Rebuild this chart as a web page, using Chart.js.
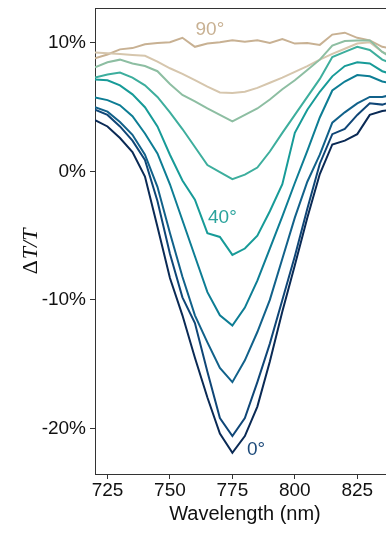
<!DOCTYPE html>
<html>
<head>
<meta charset="utf-8">
<script src="https://cdn.jsdelivr.net/npm/chart.js@4"></script>
<style>
  html, body { margin: 0; padding: 0; background: #ffffff; }
  #wrap { width: 386px; height: 533px; }
</style>
</head>
<body>
<div id="wrap"><canvas id="c" width="386" height="533"></canvas></div>
<script>
// Wavelength grid (nm)
const wavelengths = [720, 725, 730, 735, 740, 745, 750, 755, 760, 765, 770, 775, 780,
                     785, 790, 795, 800, 805, 810, 815, 820, 825, 830, 835, 840];

// Relative transmission change ΔT/T (%) for each polarisation angle
const dT_0  = [4.0, 3.5, 2.6, 1.5, -0.4, -4.3, -8.3, -11.2, -14.5, -17.6, -20.4, -21.9, -20.6,
               -18.3, -14.8, -10.9, -7.3, -3.6, -0.2, 2.1, 2.4, 2.9, 4.4, 4.7, 4.85];
const dT_10 = [4.8, 4.4, 3.5, 2.4, 0.9, -2.3, -6.4, -9.8, -11.8, -15.6, -19.2, -20.6, -19.2,
               -16.4, -13.4, -10.0, -6.6, -2.9, 0.6, 2.9, 3.3, 4.4, 5.3, 5.2, 5.5];
const dT_20 = [5.0, 4.65, 3.85, 2.85, 1.3, -1.2, -4.8, -8.2, -11.2, -13.3, -15.3, -16.4, -14.7,
               -12.5, -10.0, -6.8, -3.6, -0.8, 1.3, 3.8, 4.6, 5.3, 5.8, 5.8, 6.0];
const dT_30 = [5.75, 5.55, 5.15, 4.3, 2.95, 1.4, -1.0, -3.8, -6.6, -9.4, -11.2, -12.0, -10.6,
               -8.5, -6.0, -3.5, -0.9, 1.6, 4.2, 6.3, 7.0, 7.5, 7.4, 7.0, 6.8];
const dT_40 = [7.15, 7.1, 6.7, 6.0, 5.0, 3.5, 1.3, -0.7, -2.2, -4.8, -5.1, -6.5, -6.0,
               -5.0, -3.1, -1.0, 3.0, 4.8, 6.2, 7.4, 8.2, 8.5, 8.4, 7.8, 7.5];
const dT_50 = [7.3, 7.55, 7.7, 7.3, 6.7, 5.8, 4.6, 3.3, 1.9, 0.5, -0.05, -0.6, -0.25,
               0.3, 1.55, 3.0, 4.4, 5.8, 7.2, 8.9, 9.3, 9.7, 9.45, 8.7, 8.3];
const dT_60 = [8.1, 8.5, 8.7, 8.4, 8.2, 7.8, 6.8, 5.95, 5.45, 4.9, 4.4, 3.9, 4.4,
               4.9, 5.6, 6.4, 7.1, 7.9, 8.7, 9.8, 10.15, 10.2, 10.2, 9.3, 8.7];
const dT_75 = [9.25, 9.2, 9.14, 9.07, 9.0, 8.55, 8.03, 7.6, 7.1, 6.6, 6.15, 6.1, 6.2,
               6.5, 6.9, 7.3, 7.75, 8.2, 8.7, 9.15, 9.55, 9.95, 10.05, 9.3, 8.9];
const dT_90 = [8.8, 9.1, 9.5, 9.6, 9.9, 10.0, 10.05, 10.4, 9.7, 9.95, 10.05, 10.2, 10.1,
               10.2, 10.0, 10.3, 9.95, 10.0, 9.85, 10.65, 10.8, 10.4, 10.2, 9.7, 9.5];

const angleNames = ['0°', '10°', '20°', '30°', '40°', '50°', '60°', '75°', '90°'];
const seriesValues = [dT_0, dT_10, dT_20, dT_30, dT_40, dT_50, dT_60, dT_75, dT_90];
const seriesColors = ['#0a2a55', '#0f4677', '#11618a', '#0d7d94', '#179b98',
                      '#3dae9d', '#8dbea2', '#d6c6ad', '#c8b193'];

const xTicks = [725, 750, 775, 800, 825];
const yTicks = [-20, -10, 0, 10];

// In-plot angle labels: [text, wavelength, value, colour]
const curveLabels = [
  ['90°', 766, 11.0, '#c8b193'],
  ['40°', 771, -3.6, '#2aa39c'],
  ['0°', 784.5, -21.7, '#1d4a7a']
];

const sansFont = "'Liberation Sans', Arial, Helvetica, sans-serif";

const datasets = seriesValues.map((vals, i) => ({
  label: angleNames[i],
  data: wavelengths.map((w, k) => ({ x: w, y: vals[k] })),
  borderColor: seriesColors[i],
  backgroundColor: seriesColors[i],
  borderWidth: 2,
  pointRadius: 0,
  tension: 0,
  fill: false
}));

const framePlugin = {
  id: 'frameAndText',
  afterDraw(chart) {
    const { ctx, chartArea, scales } = chart;
    ctx.save();
    // top frame edge
    ctx.strokeStyle = '#333';
    ctx.lineWidth = 1;
    ctx.beginPath();
    ctx.moveTo(chartArea.left, chartArea.top + 0.5);
    ctx.lineTo(chartArea.right, chartArea.top + 0.5);
    ctx.stroke();

    // curve labels
    ctx.font = '19px ' + sansFont;
    ctx.textAlign = 'center';
    ctx.textBaseline = 'middle';
    curveLabels.forEach(([t, wx, vy, col]) => {
      ctx.fillStyle = col;
      ctx.fillText(t, scales.x.getPixelForValue(wx), scales.y.getPixelForValue(vy));
    });

    // x axis title
    ctx.fillStyle = '#111';
    ctx.font = '20px ' + sansFont;
    ctx.fillText('Wavelength (nm)', 245, 514);

    // y axis title: upright Δ, italic T/T
    ctx.translate(31, 252);
    ctx.rotate(-Math.PI / 2);
    const f1 = "22px 'Liberation Serif', 'DejaVu Serif', serif";
    const f2 = "italic 22px 'Liberation Serif', 'DejaVu Serif', serif";
    ctx.font = f1; const w1 = ctx.measureText('Δ').width;
    ctx.font = f2; const w2 = ctx.measureText('T/T').width;
    const x0 = -(w1 + w2) / 2;
    ctx.textAlign = 'left';
    ctx.font = f1; ctx.fillText('Δ', x0, 0);
    ctx.font = f2; ctx.fillText('T/T', x0 + w1 + 1, 0);
    ctx.restore();
  }
};

new Chart(document.getElementById('c'), {
  type: 'line',
  data: { datasets },
  options: {
    responsive: false,
    animation: false,
    layout: { padding: { top: 8, right: 0, left: 0, bottom: 0 } },
    plugins: { legend: { display: false }, tooltip: { enabled: false } },
    scales: {
      x: {
        type: 'linear',
        min: 720,
        max: 836.5,
        afterBuildTicks: s => { s.ticks = xTicks.map(v => ({ value: v })); },
        afterFit: s => { s.height = 59; s.paddingLeft = 0; s.paddingRight = 0; },
        ticks: { color: '#111', font: { family: sansFont, size: 19 }, padding: 0, maxRotation: 0 },
        grid: { display: true, drawOnChartArea: false, drawTicks: true, tickLength: 5, color: '#333' },
        border: { display: true, color: '#333', width: 1 }
      },
      y: {
        min: -23.55,
        max: 12.72,
        afterBuildTicks: s => { s.ticks = yTicks.map(v => ({ value: v })); },
        afterFit: s => { s.width = 95; s.paddingTop = 0; s.paddingBottom = 0; },
        ticks: { color: '#111', font: { family: sansFont, size: 19 }, padding: 4,
                 callback: v => v + '%' },
        grid: { display: true, drawOnChartArea: false, drawTicks: true, tickLength: 5, color: '#333' },
        border: { display: true, color: '#333', width: 1 }
      }
    }
  },
  plugins: [framePlugin]
});
</script>
</body>
</html>
